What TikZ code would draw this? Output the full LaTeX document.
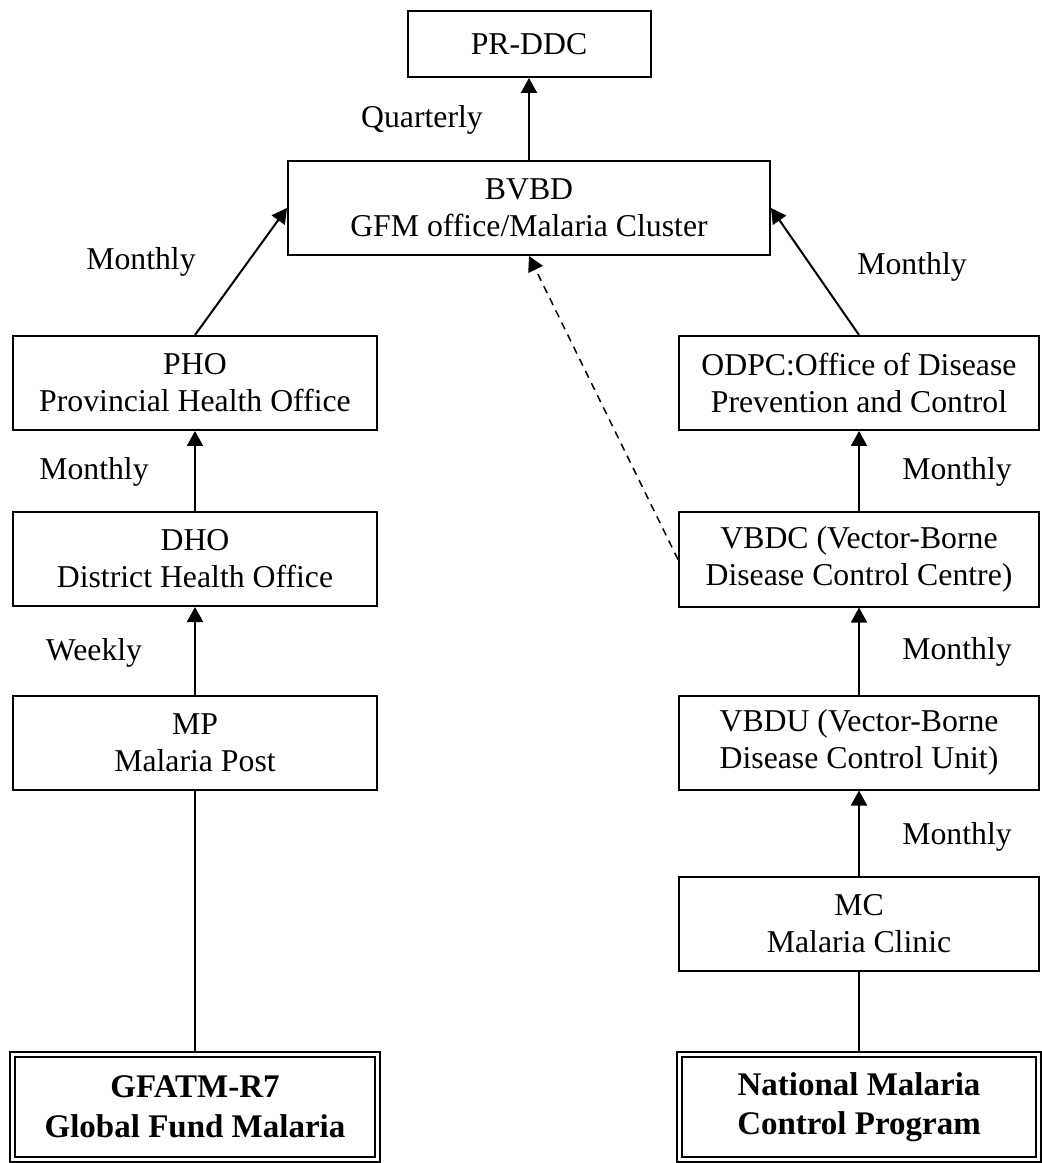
\documentclass[tikz,border=0pt]{standalone}
\usepackage{fontspec}
\setmainfont{Liberation Serif}
\usetikzlibrary{positioning}
\usetikzlibrary{arrows.meta}
\tikzset{office/.style={draw, line width=0.8pt, align=center, inner sep=0pt, minimum height=37.6pt},
prog/.style={office, double, double distance=1.2pt, minimum height=42pt, font=\bfseries\fontsize{13.2}{15.8}\selectfont},
freq/.style={inner sep=0pt},
up/.style={line width=0.8pt, -{Triangle[length=6pt,width=6.4pt]}}}

\begin{document}
\begin{tikzpicture}[x=0.4pt, y=-0.4pt, font=\fontsize{12.7}{14.8}\selectfont]
					\useasboundingbox (0,0) rectangle (1041,1163);
					\node[office, minimum width=97.2pt, minimum height=26.4pt] (prddc) at (529,44) {PR-DDC};
					\node[office, minimum width=192.8pt] (bvbd) at (529,208) {BVBD\\GFM office/Malaria Cluster};
					\node[office, minimum width=145.6pt] (pho) at (195,383) {PHO\\Provincial Health Office};
					\node[office, minimum width=145.6pt] (dho) at (195,559) {DHO\\District Health Office};
					\node[office, minimum width=145.6pt] (mp) at (195,742.5) {MP\\Malaria Post};
					\node[prog, minimum width=146pt] (gfatm) at (195,1107) {GFATM-R7\\Global Fund Malaria};
					\node[office, minimum width=144pt] (odpc) at (859,383) {ODPC:Office of Disease\\Prevention and Control};
					\node[office, minimum width=144pt] (vbdc) at (859,559.5) {VBDC (Vector-Borne\\Disease Control Centre)};
					\node[office, minimum width=144pt] (vbdu) at (859,742.5) {VBDU (Vector-Borne\\Disease Control Unit)};
					\node[office, minimum width=144pt] (mc) at (859,923.5) {MC\\Malaria Clinic};
					\node[prog, minimum width=143.6pt] (nmcp) at (859,1107) {National Malaria\\Control Program};
					\node[freq] (qtr) at (422,120) {Quarterly};
					\node[freq] (mleft) at (141,262) {Monthly};
					\node[freq] (mright) at (912,267) {Monthly};
					\node[freq] (mpho) at (94,472) {Monthly};
					\node[freq] (wdho) at (94,653) {Weekly};
					\node[freq] (modpc) at (957,472) {Monthly};
					\node[freq] (mvbdc) at (957,652) {Monthly};
					\node[freq] (mvbdu) at (957,837) {Monthly};
					\draw[up] (bvbd) -- (prddc);
					\draw[up] (pho.north) -- (bvbd.west);
					\draw[up] (odpc.north) -- (bvbd.east);
					\draw[up] (dho) -- (pho);
					\draw[up] (mp) -- (dho);
					\draw[up] (vbdc) -- (odpc);
					\draw[up] (vbdu) -- (vbdc);
					\draw[up] (mc) -- (vbdu);
					\draw[up, line width=0.6pt, dash pattern=on 3pt off 2.4pt] (vbdc.west) -- (bvbd.south);
					\draw[line width=0.8pt, shorten >=1pt] (mp) -- (gfatm);
					\draw[line width=0.8pt, shorten >=1pt] (mc) -- (nmcp);
			\end{tikzpicture}
\end{document}
